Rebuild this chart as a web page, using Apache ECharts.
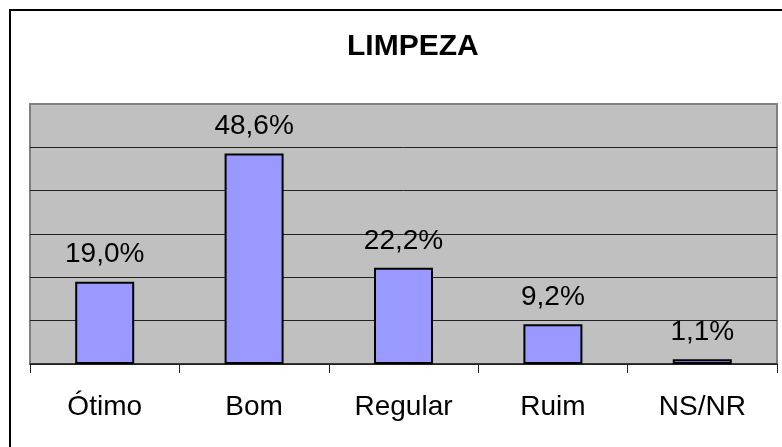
<!DOCTYPE html>
<html>

<head>
	<meta charset="utf-8">
	<title>LIMPEZA</title>
	<script src="https://cdn.jsdelivr.net/npm/echarts@6/dist/echarts.min.js"></script>
	<style>
		body { margin: 0; background: #fff; }
	</style>
</head>

<body>
	<div id="main" style="width: 782px;height:447px;"></div>
	<script type="text/javascript">
	var myChart = echarts.init(document.getElementById('main'));

	var categories = ['Ótimo', 'Bom', 'Regular', 'Ruim', 'NS/NR'];
	var values = [19.0, 48.6, 22.2, 9.2, 1.1];

	var font = '"Liberation Sans", Arial, sans-serif';

	function pct(v) {
		return v.toFixed(1).replace('.', ',') + '%';
	}

	option = {
		animation: false,
		backgroundColor: '#fff',
		title: {
			text: 'LIMPEZA',
			left: 342,
			top: 27,
			textStyle: {
				fontFamily: font,
				fontSize: 30,
				fontWeight: 'bold',
				color: '#000'
			}
		},
		// outer frame of the chart (runs off the right/bottom edge)
		graphic: [{
			type: 'rect',
			shape: { x: 10, y: 10, width: 900, height: 900 },
			style: { fill: 'none', stroke: '#000', lineWidth: 2 },
			silent: true
		}],
		grid: {
			left: 30,
			right: 5,
			top: 104,
			bottom: 83,
			show: true,
			backgroundColor: '#C0C0C0',
			borderColor: '#808080',
			borderWidth: 2
		},
		xAxis: {
			type: 'category',
			data: categories,
			axisLine: { lineStyle: { color: '#222', width: 1.5 } },
			axisTick: {
				show: true,
				alignWithLabel: false,
				inside: false,
				length: 9,
				lineStyle: { color: '#222', width: 1 }
			},
			axisLabel: {
				margin: 29,
				fontFamily: font,
				fontSize: 28,
				color: '#000'
			}
		},
		yAxis: {
			type: 'value',
			min: 0,
			max: 60,
			interval: 10,
			axisLabel: { show: false },
			axisLine: { show: false },
			axisTick: { show: false },
			splitLine: {
				show: true,
				lineStyle: {
					color: ['#222', '#222', '#222', '#222', '#222', '#222', '#808080'],
					width: 1
				}
			}
		},
		series: [{
			name: 'LIMPEZA',
			type: 'bar',
			data: values,
			barWidth: 59,
			itemStyle: {
				color: '#9999FF',
				borderColor: '#000',
				borderWidth: 2
			},
			label: {
				show: true,
				position: 'top',
				distance: 13,
				fontFamily: font,
				fontSize: 28,
				color: '#000',
				formatter: function(p) { return pct(p.value); }
			}
		}]
	};

	myChart.setOption(option);
	</script>
</body>

</html>
